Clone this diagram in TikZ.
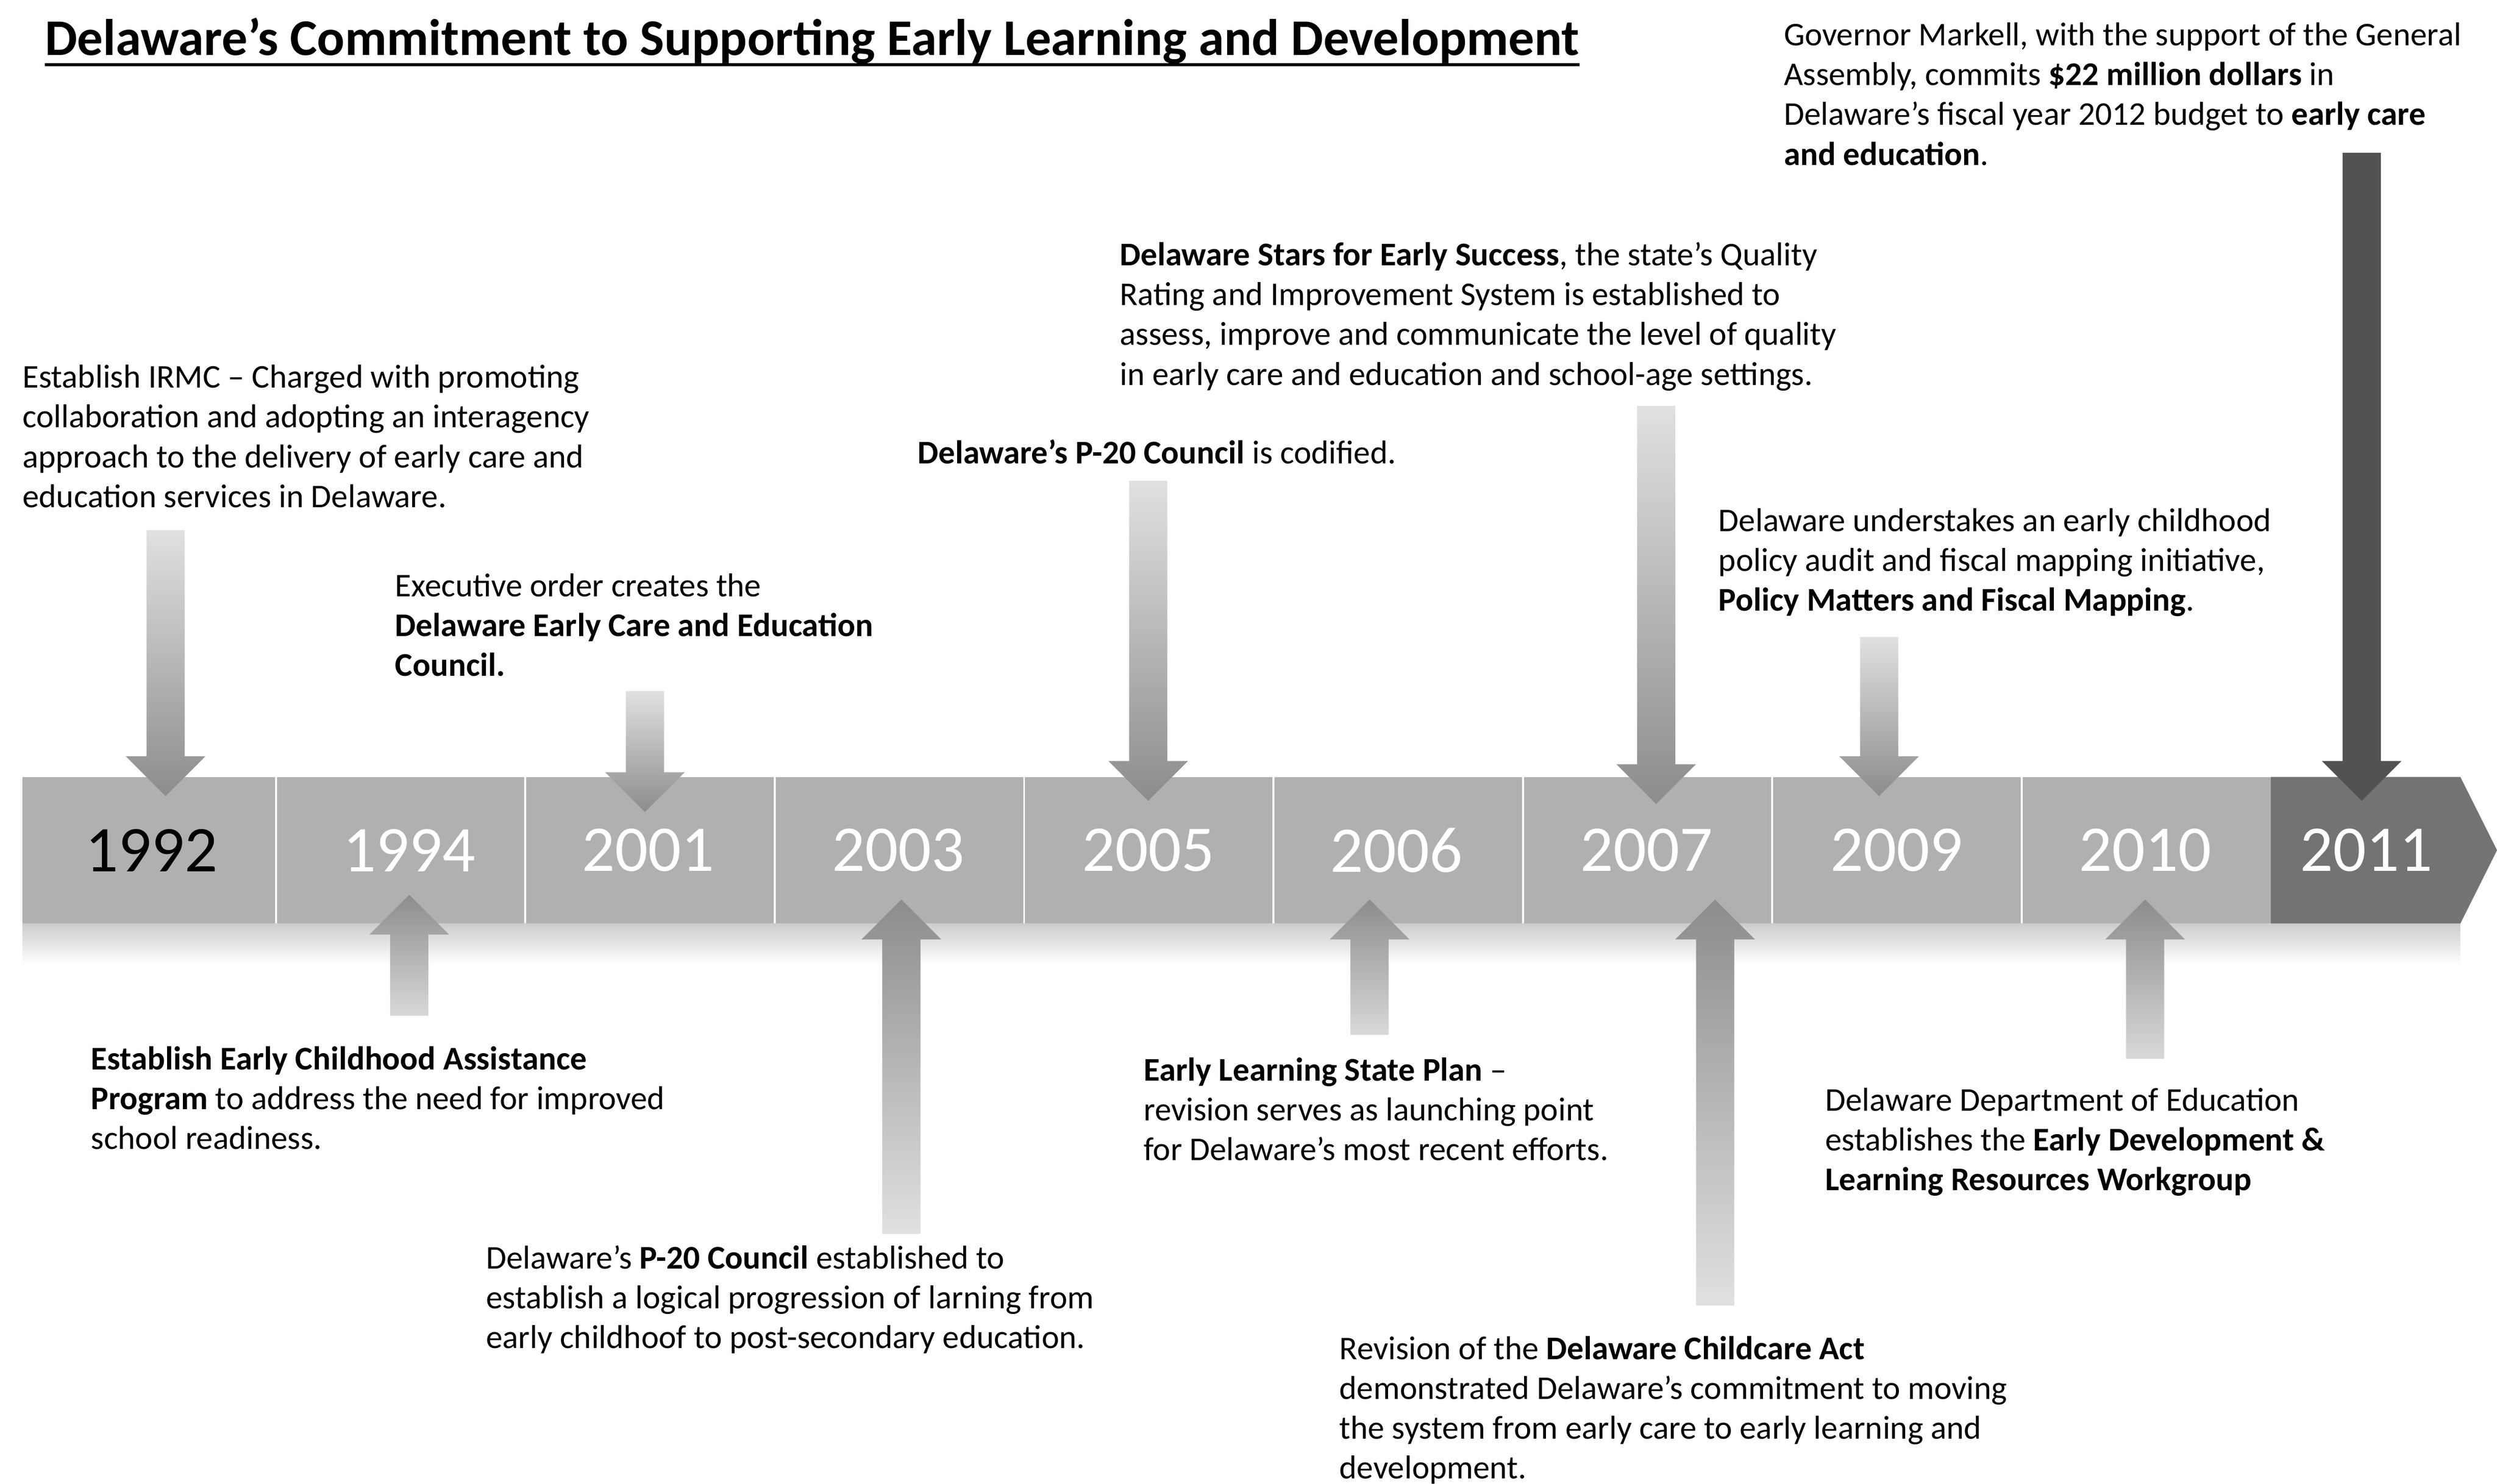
\documentclass[tikz,border=0pt]{standalone}
\usepackage{fontspec}
\setmainfont{Carlito}
\usetikzlibrary{calc}
\def\downarr[#1](#2:#3:#4){\path[#1] ({#2-12},#3) -- ({#2+12},#3) -- ({#2+12},{#4-25}) -- ({#2+25},{#4-25}) -- (#2,#4) -- ({#2-25},{#4-25}) -- ({#2-12},{#4-25}) -- cycle;}
\def\uparr[#1](#2:#3:#4){\path[#1] ({#2-12},#4) -- ({#2+12},#4) -- ({#2+12},{#3+25}) -- ({#2+25},{#3+25}) -- (#2,#3) -- ({#2-25},{#3+25}) -- ({#2-12},{#3+25}) -- cycle;}

\begin{document}
\begin{tikzpicture}[x=1pt,y=-1pt,
	note/.style={anchor=north west,inner sep=0pt,align=left,font=\fontsize{20.8}{25}\selectfont},
	yearlbl/.style={inner sep=0pt,font=\fontsize{41}{41}\selectfont}]
			\useasboundingbox (0,0) rectangle (1568,932);
			%%%%% TITLE %%%%%
			\node[anchor=north west,inner sep=0pt,font=\fontsize{32.3}{32}\selectfont\bfseries] (title) at (28,11) {Delaware’s Commitment to Supporting Early Learning and Development};
			\draw[line width=2pt] ($(title.base west)+(0,6)$) -- ($(title.base east)+(0,6)$);
			
			%%%%% BAND %%%%%
			\fill[black!31] (14,488) rectangle (1426,580);
			\shade[top color=black!20,bottom color=white] (14,580) rectangle (1545,606);
			\fill[black!55] (1426,488) -- (1545,488) -- (1568,534) -- (1545,580) -- (1426,580) -- cycle;
			\foreach \i in {0,...,7}
				\draw[white,line width=1.2pt] ({173.3+156.6*\i},488) -- ({173.3+156.6*\i},580);
			
			\foreach \yr/\col/\xx in {1992/black/95,1994/white/257,2001/white/407,2003/white/564,2005/white/721,2006/white/877,2007/white/1034,2009/white/1191,2010/white/1347,2011/white/1486}
				\node[yearlbl,text=\col] (y\yr) at (\xx,534) {\yr};
			
			%%%%% ARROWS %%%%%
			\downarr[top color=black!12,bottom color=black!45](104:333:500)
			\downarr[top color=black!12,bottom color=black!45](405:434:510)
			\downarr[top color=black!12,bottom color=black!45](721:302:503)
			\downarr[top color=black!12,bottom color=black!45](1040:255:505)
			\downarr[top color=black!12,bottom color=black!45](1180:400:500)
			\downarr[fill=black!68](1483:96:503)
			
			\uparr[top color=black!45,bottom color=black!15](257:562:638)
			\uparr[top color=black!45,bottom color=black!12](566:565:775)
			\uparr[top color=black!45,bottom color=black!15](860:565:650)
			\uparr[top color=black!45,bottom color=black!12](1077:565:820)
			\uparr[top color=black!45,bottom color=black!15](1347:565:665)
			
			%%%%% TEXT ABOVE %%%%%
			\node[note] (irmc) at (14,229) {Establish IRMC – Charged with promoting\\collaboration and adopting an interagency\\approach to  the delivery of early care and\\education services in Delaware.};
			\node[note] (ecec) at (248,360) {Executive order creates the\\\textbf{Delaware Early Care and Education}\\\textbf{Council.}};
			\node[note] (ptwenty) at (576,276) {\textbf{Delaware’s P-20 Council} is codified.};
			\node[note] (stars) at (703,152) {\textbf{Delaware Stars for Early Success}, the state’s Quality\\Rating and Improvement System is established to\\assess, improve and communicate the level of quality\\in early care and education and school-age settings.};
			\node[note] (audit) at (1079,319) {Delaware understakes an early childhood\\policy audit and fiscal mapping initiative,\\\textbf{Policy Matters and Fiscal Mapping}.};
			\node[note] (budget) at (1120,14) {Governor Markell, with the support of the General\\Assembly, commits \textbf{\$22 million dollars} in\\Delaware’s fiscal year 2012 budget to \textbf{early care}\\\textbf{and education}.};
			
			%%%%% TEXT BELOW %%%%%
			\node[note] (ecap) at (57,657) {\textbf{Establish Early Childhood Assistance}\\\textbf{Program} to address the need for improved\\school readiness.};
			\node[note] (ptwentylaw) at (305,782) {Delaware’s \textbf{P-20 Council} established to\\establish a logical progression of larning from\\early childhoof to post-secondary education.};
			\node[note] (plan) at (718,664) {\textbf{Early Learning State Plan} –\\revision serves as launching point\\for Delaware’s most recent efforts.};
			\node[note] (childcare) at (841,839) {Revision of the \textbf{Delaware Childcare Act}\\demonstrated Delaware’s commitment to moving\\the system from early care to early learning and\\development.};
			\node[note] (workgroup) at (1146,683) {Delaware Department of Education\\establishes the \textbf{Early Development \&}\\\textbf{Learning Resources Workgroup}};
		\end{tikzpicture}
\end{document}
